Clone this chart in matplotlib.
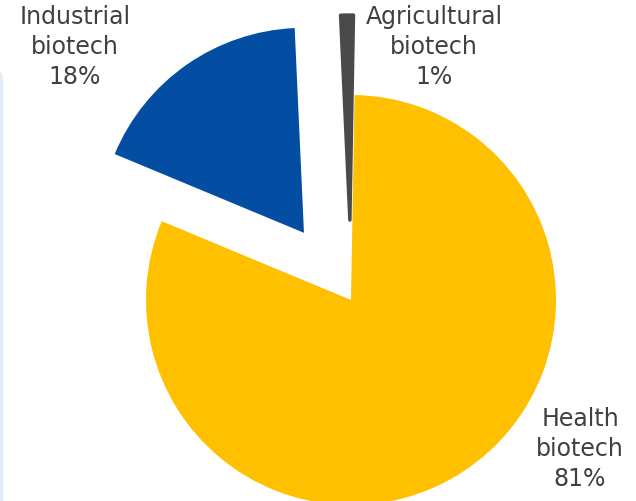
import matplotlib.pyplot as plt
from matplotlib.patches import FancyBboxPatch

labels = ['Health\nbiotech', 'Industrial\nbiotech', 'Agricultural\nbiotech']
shares = [81, 18, 1]
colors = ['#FFC000', '#034EA2', '#4A4A4A']
explode = [0, 0.40, 0.39]

fig = plt.figure(figsize=(6.36, 5.02), dpi=100)
ax = fig.add_axes([0, 0, 1, 1])

# faint panel edge on the left side
fig.patches.append(FancyBboxPatch((-0.02, -0.05), 0.025, 0.91,
                                  boxstyle='round,pad=0,rounding_size=0.02',
                                  transform=fig.transFigure,
                                  facecolor='#E2EDF8', edgecolor='none'))

wedges, _ = ax.pie(shares, colors=colors, explode=explode, startangle=89,
                   counterclock=False, radius=1.0,
                   wedgeprops=dict(linewidth=0))
wedges[2].set_edgecolor(colors[2])
wedges[2].set_linewidth(2.5)
wedges[2].set_joinstyle('round')

ax.set_aspect('equal')
ax.set_xlim(-351 / 205, 285 / 205)
ax.set_ylim(-201 / 205, 301 / 205)
ax.axis('off')

txt = dict(ha='center', va='center', fontsize=17, color='#404040',
           family='DejaVu Sans', linespacing=1.32)
pos = [(580 / 636, 1 - 449 / 502), (75 / 636, 1 - 47 / 502), (434 / 636, 1 - 47 / 502)]
for lab, s, (x, y) in zip(labels, shares, pos):
    fig.text(x, y, f'{lab}\n{s}%', **txt)

fig.savefig('out.png', dpi=100, facecolor='white')
